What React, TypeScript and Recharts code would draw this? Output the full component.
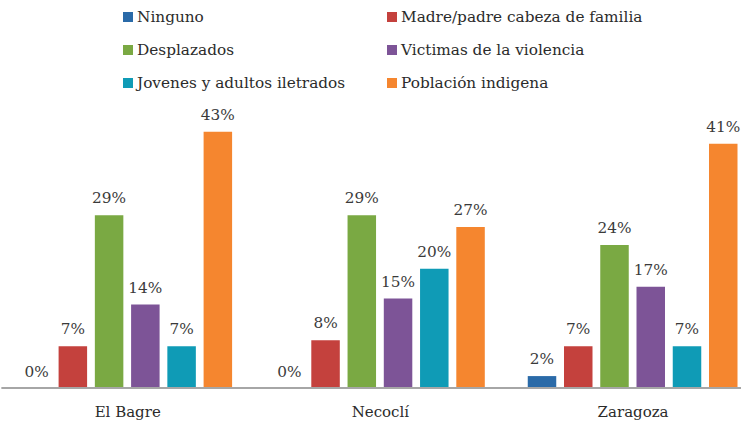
import React from 'react';
import { BarChart, Bar, XAxis, YAxis, LabelList, Legend } from 'recharts';

const categories = ['El Bagre', 'Necoclí', 'Zaragoza'];
const ninguno = [0, 0, 2];
const madrePadre = [7, 8, 7];
const desplazados = [29, 29, 24];
const victimas = [14, 15, 17];
const jovenes = [7, 20, 7];
const indigena = [43, 27, 41];

const seriesNames = [
  'Ninguno',
  'Madre/padre cabeza de familia',
  'Desplazados',
  'Victimas de la violencia',
  'Jovenes y adultos iletrados',
  'Población indigena',
];
const seriesKeys = ['ninguno', 'madrePadre', 'desplazados', 'victimas', 'jovenes', 'indigena'];
const seriesColors = ['#2a6aa8', '#c4413d', '#7aa943', '#7d5497', '#0f9bb6', '#f5862f'];

const data = categories.map((c, i) => ({
  name: c,
  ninguno: ninguno[i],
  madrePadre: madrePadre[i],
  desplazados: desplazados[i],
  victimas: victimas[i],
  jovenes: jovenes[i],
  indigena: indigena[i],
}));

const FONT = '"DejaVu Serif", serif';

const LegendContent = () => {
  const colX = [123, 387];
  const rowY = [16.5, 49.5, 82.5];
  return (
    <div style={{ position: 'relative', width: 741, height: 100 }}>
      {seriesNames.map((n, i) => {
        const col = i % 2;
        const row = Math.floor(i / 2);
        return (
          <div
            key={n}
            style={{
              position: 'absolute',
              left: colX[col],
              top: rowY[row] - 10,
              height: 20,
              display: 'flex',
              alignItems: 'center',
              whiteSpace: 'nowrap',
            }}
          >
            <span style={{ display: 'inline-block', width: 10, height: 10, background: seriesColors[i], marginRight: 4 }} />
            <span style={{ fontFamily: FONT, fontSize: 15.3, color: '#2b2b2b' }}>{n}</span>
          </div>
        );
      })}
    </div>
  );
};

const ValueLabel = (props: any) => {
  const { x, y, width, value } = props;
  if (x == null || y == null) return null;
  const isZero = Number(value) === 0;
  return (
    <text
      x={Number(x) + Number(width) / 2}
      y={Number(y) - (isZero ? 11 : 12)}
      textAnchor="middle"
      style={{ fontFamily: FONT, fontSize: 15.3, fill: '#3a3a3a' }}
    >
      {`${value}%`}
    </text>
  );
};

export default function App() {
  return (
    <div style={{ position: 'absolute', left: 0, top: 0, width: 741, height: 427, overflow: 'hidden', background: '#fff' }}>
      <BarChart
        width={770}
        height={427}
        data={data}
        margin={{ top: 90, right: 10.55, left: 1.35, bottom: 9 }}
        barSize={28.5}
        barGap={7.75}
      >
        <XAxis
          dataKey="name"
          height={30}
          tickLine={false}
          axisLine={{ stroke: '#a6a6a6', strokeWidth: 2 }}
          tick={{ fontFamily: FONT, fontSize: 15, fill: '#2b2b2b' }}
          tickMargin={12}
        />
        <YAxis hide domain={[0, 50]} />
        <Legend
          layout="vertical"
          align="center"
          verticalAlign="middle"
          wrapperStyle={{ position: 'absolute', top: 0, left: 0, width: 741, height: 100 }}
          content={() => <LegendContent />}
        />
        {seriesKeys.map((k, i) => (
          <Bar
            key={k}
            dataKey={k}
            name={seriesNames[i]}
            fill={seriesColors[i]}
            minPointSize={0.01}
            isAnimationActive={false}
          >
            <LabelList dataKey={k} content={<ValueLabel />} />
          </Bar>
        ))}
      </BarChart>
    </div>
  );
}
